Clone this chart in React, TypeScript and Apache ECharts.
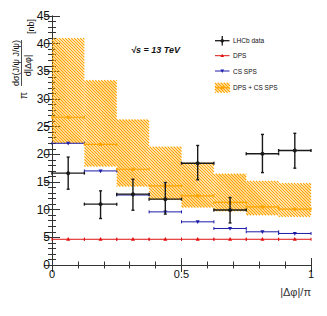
import React, { useEffect, useRef } from "react";
import * as echarts from "echarts";

// ---- data ----
const binLow = [0, 0.125, 0.25, 0.375, 0.5, 0.625, 0.75, 0.875];
const binHigh = [0.125, 0.25, 0.375, 0.5, 0.625, 0.75, 0.875, 1];
const binCenter = [0.0625, 0.1875, 0.3125, 0.4375, 0.5625, 0.6875, 0.8125, 0.9375];

const lhcbData = [16.6, 11.0, 12.8, 11.9, 18.4, 9.95, 20.1, 20.7];
const lhcbLow = [13.7, 8.4, 9.9, 9.2, 15.4, 7.6, 16.7, 17.5];
const lhcbHigh = [19.5, 13.4, 15.5, 14.9, 21.6, 12.2, 23.6, 23.8];

const dpsValues = [4.65, 4.65, 4.65, 4.65, 4.65, 4.65, 4.65, 4.65];
const csSpsValues = [22.0, 17.0, 12.65, 9.6, 7.8, 6.6, 6.0, 5.7];

const sumValues = [26.7, 21.8, 17.3, 14.3, 12.5, 11.3, 10.5, 10.1];
const sumLow = [22.0, 17.8, 14.2, 11.8, 10.4, 9.7, 9.0, 8.7];
const sumHigh = [41.0, 33.4, 26.3, 21.4, 18.5, 16.5, 15.2, 14.8];

const xTickLabels: Record<string, string> = { "0": "0", "0.5": "0.5", "1": "1" };
const legendLabels = ["LHCb data", "DPS", "CS SPS", "DPS + CS SPS"];

const ORANGE = "#ffa500";
const RED = "#e01010";
const BLUE = "#1c1ca8";
const BLACK = "#1a1a1a";
const FONT = "'Liberation Sans', Arial, Helvetica, sans-serif";

function hatchLines(x0: number, y0: number, x1: number, y1: number, step: number, style: any) {
  const out: any[] = [];
  const cStart = Math.floor((x0 - y1) / step) * step;
  for (let c = cStart; c <= x1 - y0; c += step) {
    const xa = Math.max(x0, y0 + c);
    const xb = Math.min(x1, y1 + c);
    if (xb > xa) {
      out.push({ type: "line", shape: { x1: xa, y1: xa - c, x2: xb, y2: xb - c }, style });
    }
  }
  return out;
}

function markerEl(kind: string, cx: number, cy: number, color: string) {
  if (kind === "up") {
    return { type: "polygon", shape: { points: [[cx, cy - 2.2], [cx - 2, cy + 1.5], [cx + 2, cy + 1.5]] }, style: { fill: color } };
  }
  if (kind === "down") {
    return { type: "polygon", shape: { points: [[cx, cy + 2.2], [cx - 2, cy - 1.5], [cx + 2, cy - 1.5]] }, style: { fill: color } };
  }
  if (kind === "square") {
    return { type: "rect", shape: { x: cx - 1.6, y: cy - 1.6, width: 3.2, height: 3.2 }, style: { fill: color } };
  }
  return { type: "circle", shape: { cx, cy, r: 2 }, style: { fill: color } };
}

function stepRenderer(color: string, marker: string, lw: number) {
  return (params: any, api: any) => {
    const a = api.coord([api.value(0), api.value(3)]);
    const b = api.coord([api.value(1), api.value(3)]);
    const c = api.coord([api.value(2), api.value(3)]);
    const st = { stroke: color, lineWidth: lw };
    return {
      type: "group",
      children: [
        { type: "line", shape: { x1: a[0], y1: a[1], x2: b[0], y2: b[1] }, style: st },
        { type: "line", shape: { x1: a[0], y1: a[1] - 1.5, x2: a[0], y2: a[1] + 1.5 }, style: st },
        { type: "line", shape: { x1: b[0], y1: b[1] - 1.5, x2: b[0], y2: b[1] + 1.5 }, style: st },
        markerEl(marker, c[0], c[1], color),
      ],
    };
  };
}

export default function App() {
  const ref = useRef<HTMLDivElement>(null);
  useEffect(() => {
    if (!ref.current) return;
    const chart = echarts.init(ref.current, null, { renderer: "svg" });

    const bandData = binLow.map((l, i) => [l, binHigh[i], sumLow[i], sumHigh[i]]);
    const stepData = (vals: number[]) => binLow.map((l, i) => [l, binHigh[i], binCenter[i], vals[i]]);
    const lhcbSeriesData = binLow.map((l, i) => [l, binHigh[i], binCenter[i], lhcbData[i], lhcbLow[i], lhcbHigh[i]]);

    const axisLine = { show: true, lineStyle: { color: "#333", width: 1 } };

    const xAxisBase = {
      type: "value",
      min: 0,
      max: 1,
      interval: 0.5,
      splitLine: { show: false },
      axisLine,
      axisTick: { show: true, inside: true, length: 7, lineStyle: { color: "#333" } },
      minorTick: { show: true, splitNumber: 5, length: 3.5, lineStyle: { color: "#333" } },
    };
    const yAxisBase = {
      type: "value",
      min: 0,
      max: 45,
      interval: 5,
      splitLine: { show: false },
      axisLine,
      axisTick: { show: true, inside: true, length: 8, lineStyle: { color: "#333" } },
      minorTick: { show: true, splitNumber: 5, length: 4, lineStyle: { color: "#333" } },
    };

    const legendX0 = 215;
    const legendX1 = 229.5;
    const legendTextX = 233;
    const legendY = [40.7, 55.7, 71, 87.7];
    const legendText = (i: number) => ({
      type: "text",
      x: legendTextX,
      y: legendY[i],
      style: { text: legendLabels[i], fill: "#111", font: `6.5px ${FONT}`, verticalAlign: "middle", align: "left" },
    });
    const lcx = (legendX0 + legendX1) / 2;
    const hatchStyle = { stroke: ORANGE, lineWidth: 1.3 };

    const option: any = {
      animation: false,
      backgroundColor: "#fff",
      grid: { left: 52, top: 16, width: 259, height: 249, containLabel: false },
      xAxis: [
        {
          ...xAxisBase,
          position: "bottom",
          axisLabel: {
            show: true,
            fontSize: 11,
            color: "#111",
            margin: 3,
            fontFamily: FONT,
            formatter: (v: number) => xTickLabels[String(v)] ?? String(v),
          },
        },
        { ...xAxisBase, position: "top", axisLabel: { show: false } },
      ],
      yAxis: [
        {
          ...yAxisBase,
          position: "left",
          axisLabel: { show: true, fontSize: 12, color: "#111", margin: 2, fontFamily: FONT },
        },
        { ...yAxisBase, position: "right", axisLabel: { show: false } },
      ],
      series: [
        {
          type: "custom",
          name: "DPS + CS SPS band",
          xAxisIndex: 0,
          yAxisIndex: 0,
          data: bandData,
          encode: { x: [0, 1], y: [2, 3] },
          renderItem: (params: any, api: any) => {
            const p0 = api.coord([api.value(0), api.value(3)]);
            const p1 = api.coord([api.value(1), api.value(2)]);
            return {
              type: "group",
              children: hatchLines(p0[0], p0[1], p1[0], p1[1], 3, hatchStyle),
            };
          },
        },
        {
          type: "custom",
          name: "DPS",
          data: stepData(dpsValues),
          encode: { x: [0, 1], y: 3 },
          renderItem: stepRenderer(RED, "up", 1),
        },
        {
          type: "custom",
          name: "CS SPS",
          data: stepData(csSpsValues),
          encode: { x: [0, 1], y: 3 },
          renderItem: stepRenderer(BLUE, "down", 1),
        },
        {
          type: "custom",
          name: "DPS + CS SPS",
          data: stepData(sumValues),
          encode: { x: [0, 1], y: 3 },
          renderItem: stepRenderer(ORANGE, "square", 1.2),
        },
        {
          type: "custom",
          name: "LHCb data",
          data: lhcbSeriesData,
          encode: { x: [0, 1], y: [4, 5] },
          renderItem: (params: any, api: any) => {
            const a = api.coord([api.value(0), api.value(3)]);
            const b = api.coord([api.value(1), api.value(3)]);
            const c = api.coord([api.value(2), api.value(3)]);
            const lo = api.coord([api.value(2), api.value(4)]);
            const hi = api.coord([api.value(2), api.value(5)]);
            const st = { stroke: BLACK, lineWidth: 1.4 };
            return {
              type: "group",
              children: [
                { type: "line", shape: { x1: a[0], y1: a[1], x2: b[0], y2: b[1] }, style: st },
                { type: "line", shape: { x1: a[0], y1: a[1] - 1.5, x2: a[0], y2: a[1] + 1.5 }, style: st },
                { type: "line", shape: { x1: b[0], y1: b[1] - 1.5, x2: b[0], y2: b[1] + 1.5 }, style: st },
                { type: "line", shape: { x1: lo[0], y1: lo[1], x2: hi[0], y2: hi[1] }, style: st },
                { type: "line", shape: { x1: lo[0] - 1.5, y1: lo[1], x2: lo[0] + 1.5, y2: lo[1] }, style: st },
                { type: "line", shape: { x1: hi[0] - 1.5, y1: hi[1], x2: hi[0] + 1.5, y2: hi[1] }, style: st },
                { type: "circle", shape: { cx: c[0], cy: c[1], r: 2 }, style: { fill: BLACK } },
              ],
            };
          },
        },
      ],
      graphic: [
        // y-axis title
        {
          type: "text",
          x: 23.5,
          y: 95.5,
          rotation: Math.PI / 2,
          style: { text: "π", font: `10px ${FONT}`, fill: "#111", align: "center", verticalAlign: "middle" },
        },
        {
          type: "text",
          x: 15.5,
          y: 63,
          rotation: Math.PI / 2,
          style: { text: "dσ(J/ψ J/ψ)", font: `9px ${FONT}`, fill: "#111", align: "center", verticalAlign: "middle" },
        },
        {
          type: "line",
          shape: { x1: 21.5, y1: 40, x2: 21.5, y2: 86 },
          style: { stroke: "#222", lineWidth: 0.8 },
        },
        {
          type: "text",
          x: 27.5,
          y: 65.5,
          rotation: Math.PI / 2,
          style: { text: "d|Δφ|", font: `9px ${FONT}`, fill: "#111", align: "center", verticalAlign: "middle" },
        },
        {
          type: "text",
          x: 31,
          y: 26.5,
          rotation: Math.PI / 2,
          style: { text: "[nb]", font: `9px ${FONT}`, fill: "#111", align: "center", verticalAlign: "middle" },
        },
        // x-axis title
        {
          type: "text",
          x: 311,
          y: 292,
          style: { text: "|Δφ|/π", font: `11px ${FONT}`, fill: "#333", align: "right", verticalAlign: "middle" },
        },
        // energy label
        {
          type: "text",
          x: 131,
          y: 50,
          style: { text: "√s = 13 TeV", font: `italic bold 9px ${FONT}`, fill: "#111", align: "left", verticalAlign: "middle" },
        },
        // legend: LHCb data
        { type: "line", shape: { x1: legendX0, y1: legendY[0], x2: legendX1, y2: legendY[0] }, style: { stroke: BLACK, lineWidth: 1.3 } },
        { type: "line", shape: { x1: lcx, y1: legendY[0] - 4.7, x2: lcx, y2: legendY[0] + 4.7 }, style: { stroke: BLACK, lineWidth: 1.3 } },
        { type: "circle", shape: { cx: lcx, cy: legendY[0], r: 1.8 }, style: { fill: BLACK } },
        legendText(0),
        // DPS
        { type: "line", shape: { x1: legendX0, y1: legendY[1], x2: legendX1, y2: legendY[1] }, style: { stroke: RED, lineWidth: 1 } },
        { type: "polygon", shape: { points: [[lcx, legendY[1] - 2], [lcx - 1.8, legendY[1] + 1.4], [lcx + 1.8, legendY[1] + 1.4]] }, style: { fill: RED } },
        legendText(1),
        // CS SPS
        { type: "line", shape: { x1: legendX0, y1: legendY[2], x2: legendX1, y2: legendY[2] }, style: { stroke: BLUE, lineWidth: 1 } },
        { type: "polygon", shape: { points: [[lcx, legendY[2] + 2], [lcx - 1.8, legendY[2] - 1.4], [lcx + 1.8, legendY[2] - 1.4]] }, style: { fill: BLUE } },
        legendText(2),
        // DPS + CS SPS
        {
          type: "group",
          children: hatchLines(legendX0, legendY[3] - 5, legendX1 + 0.5, legendY[3] + 5, 3, hatchStyle),
        },
        { type: "line", shape: { x1: legendX0, y1: legendY[3], x2: legendX1, y2: legendY[3] }, style: { stroke: ORANGE, lineWidth: 1.2 } },
        { type: "rect", shape: { x: lcx - 1.6, y: legendY[3] - 1.6, width: 3.2, height: 3.2 }, style: { fill: ORANGE } },
        legendText(3),
      ],
    };
    chart.setOption(option);
    return () => chart.dispose();
  }, []);
  return (
    <div
      ref={ref}
      style={{ position: "fixed", left: 0, top: 0, width: 327, height: 316, background: "#fff" }}
    />
  );
}
